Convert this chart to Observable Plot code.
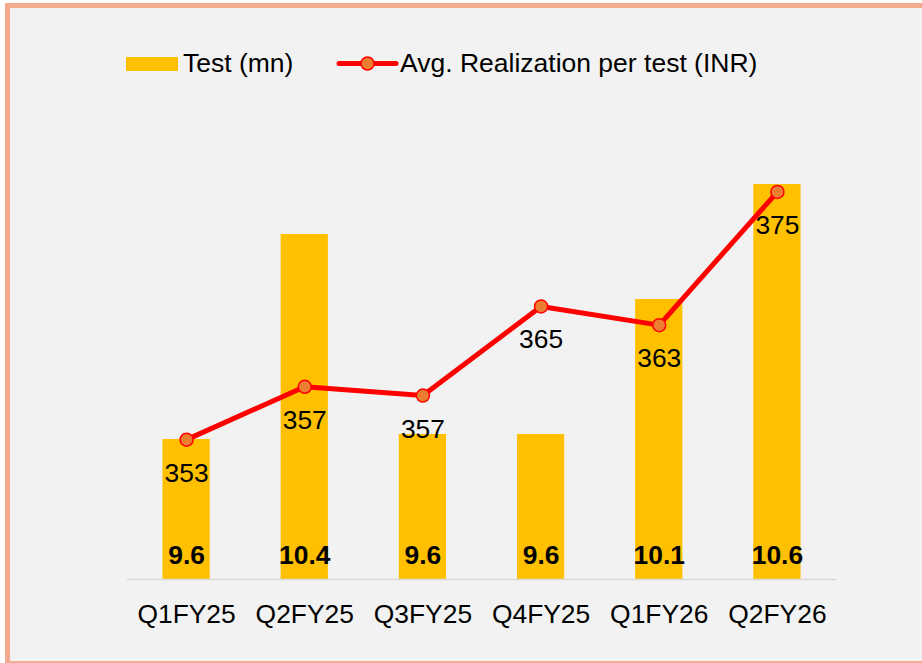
<!DOCTYPE html>
<html><head><meta charset="utf-8">
<script src="https://cdn.jsdelivr.net/npm/d3@7"></script>
<script src="https://cdn.jsdelivr.net/npm/@observablehq/plot@0.6"></script>
<style>
html,body{margin:0;padding:0;background:#fff;width:922px;height:663px;overflow:hidden;position:relative;}
#frame{position:absolute;left:5px;top:3px;width:940px;height:652.5px;border:5.5px solid #F4AA8C;border-right:none;background:#F2F2F2;}
#chart{position:absolute;left:0;top:0;}
#legend{position:absolute;left:0;top:0;}
</style></head>
<body>
<div id="frame"></div>
<div id="chart"></div>
<svg id="legend" width="922" height="100" font-family="Arial, 'Liberation Sans', sans-serif" font-size="26.5">
  <rect x="126" y="57" width="52" height="14" fill="#FFC000"></rect>
  <text x="183" y="72" fill="#000">Test (mn)</text>
  <line x1="339" y1="63.5" x2="396" y2="63.5" stroke="#FF0000" stroke-width="5" stroke-linecap="round"></line>
  <circle cx="367.5" cy="63.5" r="6.5" fill="#ED7D31" stroke="#FF0000" stroke-width="1.5"></circle>
  <text x="400" y="72" fill="#000">Avg. Realization per test (INR)</text>
</svg>
<script>
const quarters = ["Q1FY25", "Q2FY25", "Q3FY25", "Q4FY25", "Q1FY26", "Q2FY26"];
const tests = [9.58, 10.40, 9.60, 9.60, 10.14, 10.60];
const realization = [352.6, 357.4, 356.6, 364.7, 363.0, 375.1];
const yDomain = [9.02, 10.936];
const y2Domain = [339.9, 383.4];

const toY = d3.scaleLinear().domain(y2Domain).range(yDomain);
const data = quarters.map((q, i) => ({q, test: tests[i], real: realization[i], realY: toY(realization[i])}));
const f1 = d3.format(".1f"), f0 = d3.format(".0f");

const chart = Plot.plot({
  width: 922,
  height: 663,
  marginLeft: 127,
  marginRight: 86,
  marginTop: 100,
  marginBottom: 84,
  style: {background: "transparent", fontFamily: "Arial, 'Liberation Sans', sans-serif", fontSize: "26.4px", color: "#000", overflow: "visible"},
  x: {domain: quarters, paddingInner: 0.6, paddingOuter: 0.3, round: false},
  y: {domain: yDomain, axis: null},
  marks: [
    Plot.barY(data, {x: "q", y1: () => yDomain[0], y2: "test", fill: "#FFC000"}),
    Plot.ruleY([yDomain[0]], {stroke: "#D9D9D9", strokeWidth: 1.5}),
    Plot.line(data, {x: "q", y: "realY", stroke: "#FF0000", strokeWidth: 5, strokeLinecap: "round", strokeLinejoin: "round"}),
    Plot.dot(data, {x: "q", y: "realY", r: 6.5, fill: "#ED7D31", stroke: "#FF0000", strokeWidth: 1.5}),
    Plot.text(data, {x: "q", y: "realY", text: d => f0(d.real), lineAnchor: "bottom", dy: 42, fontSize: 26.4, fill: "#000"}),
    Plot.text(data, {x: "q", y: () => yDomain[0], text: d => f1(d.test), lineAnchor: "bottom", dy: -16, fontSize: 26.4, fontWeight: "bold", fill: "#000"}),
    Plot.axisX({tickSize: 0, tickPadding: 24.5, fontSize: 26.4, label: null})
  ]
});
document.getElementById("chart").appendChild(chart);
</script>
</body></html>
